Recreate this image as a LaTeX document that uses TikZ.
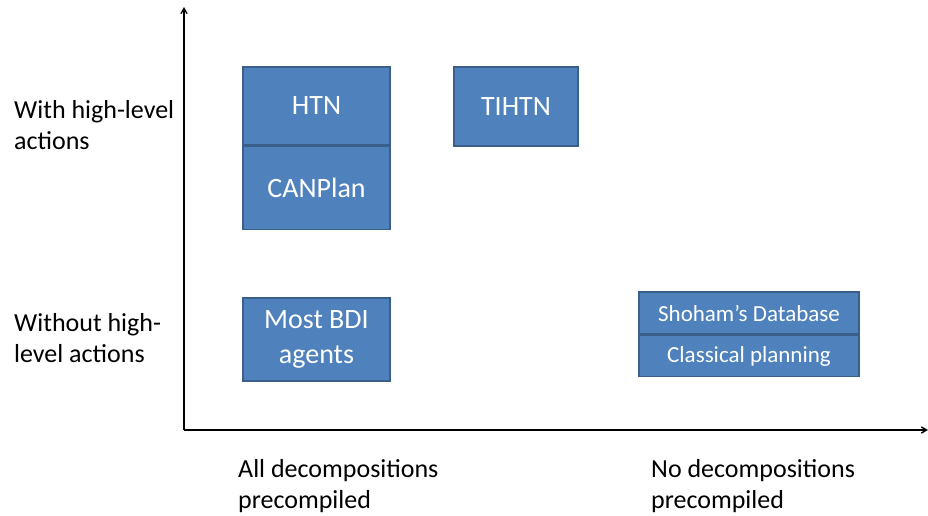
\documentclass[tikz,border=0pt]{standalone}
\usepackage{fontspec}
\setmainfont{Carlito}
\usepackage{xcolor}
\usepackage{tikz}
\usetikzlibrary{arrows}
\usetikzlibrary{positioning}
\definecolor{boxfill}{HTML}{4F81BD}
\definecolor{boxline}{HTML}{3A5F8B}
\tikzset{
	class node/.style={rectangle,draw=boxline,fill=boxfill,line width=1.6pt,text=white,
		font=\fontsize{28}{35}\selectfont,inner sep=0pt,align=center},
	small node/.style={class node,font=\fontsize{23}{26}\selectfont},
	axis label/.style={font=\fontsize{26}{31}\selectfont,align=left,inner sep=0pt}
}

\begin{document}
\begin{tikzpicture}[x=1pt,y=-1pt,->,>=angle 60]
	\useasboundingbox (0,0) rectangle (928,516);
	% axes
	\coordinate (origin) at (184,430);
	\coordinate (ytop) at (184,7);
	\coordinate (xend) at (928,430);
	\draw [line width=1.4pt] (origin) -- (ytop);
	\draw [line width=1.4pt] (origin) -- (xend);
	% boxes
	\node [class node,minimum width=147pt,minimum height=78pt] (htn) at (316.5,106) {HTN};
	\node [class node,minimum width=147pt,minimum height=83pt,below=0pt of htn] (canplan) {CANPlan};
	\node [class node,minimum width=124pt,minimum height=79pt] (tihtn) at (516,106.5) {TIHTN};
	\node [class node,minimum width=147pt,minimum height=83pt] (bdi) at (316.5,339.5) {Most BDI\\agents};
	\node [small node,minimum width=220pt,minimum height=42pt] (shoham) at (749,313) {Shoham’s Database};
	\node [small node,minimum width=220pt,minimum height=41pt,below=0pt of shoham] (classical) {Classical planning};
	% axis labels
	\node [axis label,anchor=base west] (with) at (14,149) {With high-level\\actions};
	\node [axis label,anchor=base west] (without) at (14,362) {Without high-\\level actions};
	\node [axis label,anchor=base west] (alldec) at (238,508) {All decompositions\\precompiled};
	\node [axis label,anchor=base west] (nodec) at (651,508) {No decompositions\\precompiled};
\end{tikzpicture}
\end{document}
